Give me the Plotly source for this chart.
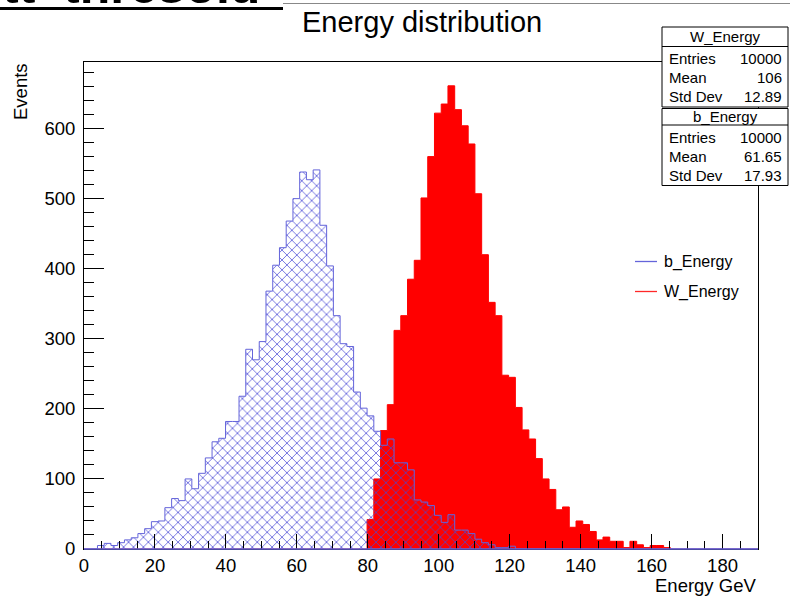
import plotly.graph_objects as go

# ---- data ----
n_bins = 100
x_min, x_max = 0.0, 190.0

b_first_bin = 2
b_counts = [5, 8, 5, 9, 13, 16, 22, 29, 39, 40, 59, 72, 69, 100, 86, 108, 130, 153,
            158, 182, 182, 218, 285, 270, 296, 368, 405, 430, 468, 500, 538, 527, 541,
            462, 404, 333, 293, 289, 224, 201, 190, 168, 148, 157, 123, 123, 113, 70,
            67, 62, 48, 38, 49, 27, 27, 22, 14, 9, 6, 2, 2, 4]

w_first_bin = 42
w_counts = [42, 100, 169, 206, 312, 333, 385, 412, 501, 560, 622, 635, 661, 627, 604,
            578, 507, 420, 352, 333, 248, 245, 202, 170, 157, 129, 100, 85, 56, 60, 31,
            40, 35, 25, 13, 17, 11, 11, 2, 11, 6, 2, 5, 5, 2]

stats_W = [("Entries", "10000"), ("Mean", "106"), ("Std Dev", "12.89")]
stats_b = [("Entries", "10000"), ("Mean", "61.65"), ("Std Dev", "17.93")]

x_ticks = [0, 20, 40, 60, 80, 100, 120, 140, 160, 180]
y_ticks = [0, 100, 200, 300, 400, 500, 600]
y_max = 695

# ---- helpers ----
W, H = 790, 596
ML, MR, MT, MB = 84, 32, 62, 47
PW, PH = W - ML - MR, H - MT - MB


def px(x):
    return (x - ML) / PW


def py(y):
    return (H - MB - y) / PH


def full(first, vals):
    arr = [0] * n_bins
    for i, v in enumerate(vals):
        arr[first + i] = v
    return arr


bw = (x_max - x_min) / n_bins
edges = [x_min + i * bw for i in range(n_bins + 1)]
b_full = full(b_first_bin, b_counts)
w_full = full(w_first_bin, w_counts)

FONT = "Liberation Sans, Arial, Helvetica, sans-serif"
BLUE_LINE = "rgb(100,100,218)"

fig = go.Figure()

# W_Energy: solid red
fig.add_trace(go.Scatter(
    x=edges, y=w_full + [w_full[-1]], mode="lines", line=dict(color="#ff0000", width=1, shape="hv"),
    fill="tozeroy", fillcolor="#ff0000", hoverinfo="skip", name="W_Energy", showlegend=False))

# b_Energy: cross-hatched blue
fig.add_trace(go.Scatter(
    x=edges, y=b_full + [b_full[-1]], mode="lines", line=dict(color=BLUE_LINE, width=1, shape="hv"),
    fill="tozeroy", fillcolor="rgba(0,0,0,0)",
    fillpattern=dict(shape="x", fgcolor="rgb(70,70,212)", size=7, solidity=0.22, fgopacity=0.9),
    hoverinfo="skip", name="b_Energy", showlegend=False))

fig.update_xaxes(range=[x_min, x_max], tickvals=x_ticks, ticks="inside", ticklen=15, tickwidth=1,
                 tickcolor="black", showgrid=False, zeroline=False, showline=True, linecolor="black",
                 mirror=True, tickfont=dict(family=FONT, size=18.5, color="black"),
                 minor=dict(dtick=5, ticks="inside", ticklen=8, tickcolor="black", showgrid=False))
fig.update_yaxes(range=[0, y_max], tickvals=y_ticks, ticks="inside", ticklen=20, tickwidth=1,
                 tickcolor="black", showgrid=False, zeroline=False, showline=True, linecolor="black",
                 mirror=True, tickfont=dict(family=FONT, size=18.5, color="black"),
                 ticklabelstandoff=4,
                 minor=dict(dtick=20, ticks="inside", ticklen=10, tickcolor="black", showgrid=False))

shapes = []
ann = []

# bottom frame line is covered by the blue outline at zero in the reference
shapes.append(dict(type="line", xref="paper", yref="paper", x0=0, x1=1, y0=0, y1=0,
                   line=dict(color=BLUE_LINE, width=1.5), layer="above"))

# top decorations (partially visible canvas title above the pad)
ann.append(dict(text="<b>tt_thresold</b>", xref="paper", yref="paper", x=px(0), y=py(-14),
                xanchor="left", yanchor="middle", showarrow=False,
                font=dict(family=FONT, size=50, color="black")))
shapes.append(dict(type="line", xref="paper", yref="paper", x0=px(0), x1=px(283), y0=py(8.5), y1=py(8.5),
                   line=dict(color="black", width=3), layer="above"))
shapes.append(dict(type="line", xref="paper", yref="paper", x0=px(283), x1=px(790), y0=py(3.5), y1=py(3.5),
                   line=dict(color="#888888", width=1), layer="above"))

# title
ann.append(dict(text="Energy distribution", xref="paper", yref="paper", x=px(421.5), y=py(22),
                xanchor="center", yanchor="middle", showarrow=False,
                font=dict(family=FONT, size=29, color="black")))
# axis titles
ann.append(dict(text="Energy GeV", xref="paper", yref="paper", x=px(758), y=py(585),
                xanchor="right", yanchor="middle", showarrow=False,
                font=dict(family=FONT, size=18.5, color="black")))
ann.append(dict(text="Events", xref="paper", yref="paper", x=px(20), y=py(92), textangle=-90,
                xanchor="center", yanchor="middle", showarrow=False,
                font=dict(family=FONT, size=18.5, color="black")))

# legend (lines only)
for label, color, yc in [("b_Energy", BLUE_LINE, 261.5), ("W_Energy", "rgb(255,40,40)", 291.5)]:
    shapes.append(dict(type="line", xref="paper", yref="paper", x0=px(635), x1=px(657), y0=py(yc), y1=py(yc),
                       line=dict(color=color, width=1.3), layer="above"))
    ann.append(dict(text=label, xref="paper", yref="paper", x=px(662), y=py(yc),
                    xanchor="left", yanchor="middle", showarrow=False,
                    font=dict(family=FONT, size=16, color="black")))


# stats boxes
def stats_box(title, rows, top, sep, bottom, row_ys, title_y):
    shapes.append(dict(type="rect", xref="paper", yref="paper", x0=px(662), x1=px(788),
                       y0=py(bottom), y1=py(top), line=dict(color="black", width=1),
                       fillcolor="white", layer="above"))
    shapes.append(dict(type="line", xref="paper", yref="paper", x0=px(662), x1=px(788),
                       y0=py(sep), y1=py(sep), line=dict(color="black", width=1), layer="above"))
    ann.append(dict(text=title, xref="paper", yref="paper", x=px(725), y=py(title_y),
                    xanchor="center", yanchor="middle", showarrow=False,
                    font=dict(family=FONT, size=15, color="black")))
    for (lab, val), yy in zip(rows, row_ys):
        ann.append(dict(text=lab, xref="paper", yref="paper", x=px(667), y=py(yy),
                        xanchor="left", yanchor="middle", showarrow=False,
                        font=dict(family=FONT, size=15, color="black")))
        ann.append(dict(text=val, xref="paper", yref="paper", x=px(784), y=py(yy),
                        xanchor="right", yanchor="middle", showarrow=False,
                        font=dict(family=FONT, size=15, color="black")))


stats_box("W_Energy", stats_W, 27, 46.5, 107, [58.5, 77.5, 96], 37)
stats_box("b_Energy", stats_b, 108.5, 125, 185.5, [137.5, 156.5, 175.5], 117)

fig.update_layout(width=W, height=H, margin=dict(l=ML, r=MR, t=MT, b=MB, pad=0, autoexpand=False),
                  paper_bgcolor="white", plot_bgcolor="white", showlegend=False,
                  font=dict(family=FONT, color="black"), shapes=shapes, annotations=ann)

fig.write_html("out.html")
